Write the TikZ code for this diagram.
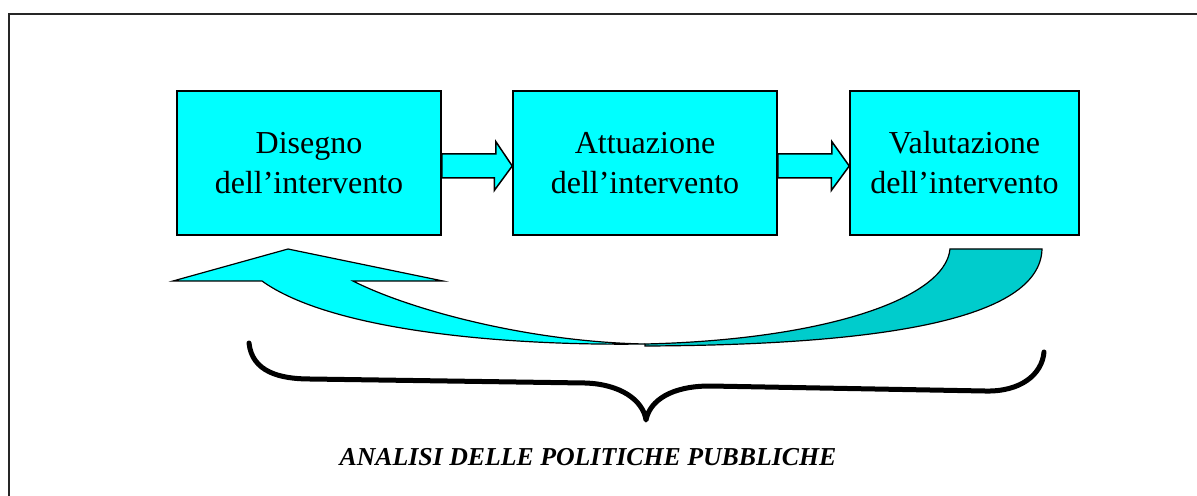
\documentclass[tikz,border=0pt]{standalone}
\usepackage{fontspec}
\setmainfont{Liberation Serif}
\definecolor{aqua}{RGB}{0,255,255}
\definecolor{darkaqua}{RGB}{0,204,204}
\tikzset{
  phase/.style={draw=black,line width=0.75pt,fill=aqua,minimum width=132pt,
    minimum height=72pt,inner sep=0pt,align=center,
    font=\fontsize{16}{20}\selectfont},
  flow/.style={draw=black,line width=0.75pt,fill=aqua,line join=miter},
  loopface/.style={draw=black,line width=0.6pt,line join=miter}
}
\begin{document}
\begin{tikzpicture}[x=0.5pt,y=-0.5pt]
      \useasboundingbox (0,0) rectangle (1197,496);
      \draw[line width=1pt,black!85] (9,14) rectangle (1230,530);
      % the three phases
      \node[phase] (dis) at (309,163) {Disegno\\dell’intervento};
      \node[phase] (att) at (645,163) {Attuazione\\dell’intervento};
      \node[phase,minimum width=114.5pt] (val) at (964.5,163) {Valutazione\\dell’intervento};
      \draw[flow] (dis.east) ++(0,-9) -- ++(54,0) -- ++(0,-12.5)
        -- ([yshift=-1.5pt]att.west) -- ++(-18,24.5) -- ++(0,-12.5)
        -- ([yshift=-7.5pt]dis.east) -- cycle;
      \draw[flow] (att.east) ++(0,-9) -- ++(54,0) -- ++(0,-12.5)
        -- ([yshift=-1.5pt]val.west) -- ++(-18,24.5) -- ++(0,-12.5)
        -- ([yshift=-7.5pt]att.east) -- cycle;
      % curved arrow back to the start
      \draw[loopface,fill=darkaqua] (645,344)
        .. controls (820,340) and (945,300) .. (950,249) -- (1042,249)
        .. controls (1040,320) and (880,345) .. (645,346) -- cycle;
      \draw[loopface,fill=aqua] (262,281) -- (173,281) -- (288,249)
        -- (443,281) -- (353,281)
        .. controls (410,310) and (530,342) .. (645,344)
        .. controls (500,346) and (330,330) .. (262,281) -- cycle;
      % brace
      \draw[line width=2.5pt,line cap=round,line join=round] (249,343)
        .. controls (252,372) and (280,379) .. (310,379) -- (585,383)
        .. controls (620,384) and (643,400) .. (646,420)
        .. controls (650,400) and (672,386) .. (710,386) -- (985,391)
        .. controls (1020,392) and (1042,375) .. (1044,352);
      \node[font=\fontsize{12.9}{16}\selectfont\bfseries\itshape] (title) at (588,457)
        {ANALISI DELLE POLITICHE PUBBLICHE};
    \end{tikzpicture}
\end{document}
